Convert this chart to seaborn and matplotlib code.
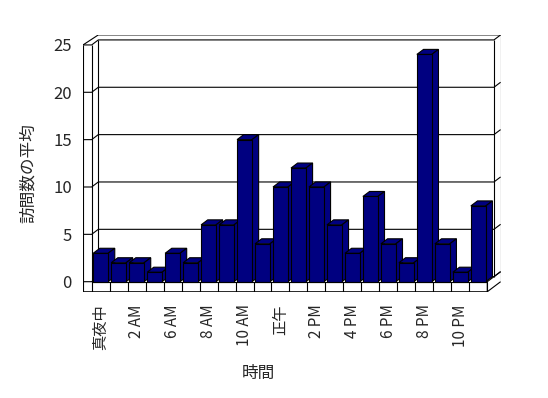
import pandas as pd
import seaborn as sns
import matplotlib.pyplot as plt
from matplotlib.patches import Polygon

# Average visits per hour (hours 4 AM / 5 AM are absent from the source)
hours = ['真夜中', '1 AM', '2 AM', '3 AM', '6 AM', '7 AM', '8 AM', '9 AM',
         '10 AM', '11 AM', '正午', '1 PM', '2 PM', '3 PM', '4 PM', '5 PM',
         '6 PM', '7 PM', '8 PM', '9 PM', '10 PM', '11 PM']
visits = [3, 2, 2, 1, 3, 2, 6, 6, 15, 4, 10, 12, 10, 6, 3, 9, 4, 2, 24, 4, 1, 8]
y_ticks = [0, 5, 10, 15, 20, 25]

sns.set_theme(style='white')
plt.rcParams['font.family'] = ['Noto Sans CJK JP', 'DejaVu Sans']

df = pd.DataFrame({'時間': hours, '訪問数の平均': visits})

navy = '#000080'
fig = plt.figure(figsize=(5.48, 3.98), dpi=100)
ax = fig.add_axes([0.1515, 0.267, 0.762, 0.6453])

sns.barplot(data=df, x='時間', y='訪問数の平均', order=hours, color=navy,
            saturation=1, width=0.83, edgecolor='black', linewidth=0.8,
            errorbar=None, ax=ax)

# fake 3D depth (Excel style)
dx, dy = 0.37, 0.53
w, hf = 0.48, 1.06
xl, xr = -0.5, len(hours) - 0.5
top = y_ticks[-1]
lw = 0.8

def seg(xs, ys, z=1):
    ax.plot(xs, ys, color='black', lw=lw, zorder=z, solid_capstyle='butt')

# back wall with gridlines
for k in y_ticks[:-1]:
    seg([xl - w, xl, xl + dx, xr + dx, xr + 2 * dx], [k, k, k + dy, k + dy, k + 2 * dy])
seg([xl - w, xl, xl + dx, xr + dx, xr + 2 * dx], [top, top, top + dy, top + dy, top + 2 * dy])
seg([xl + dx, xl + dx], [dy, top + dy])
seg([xl - w, xl + dx, xr + 2 * dx], [top, top + 2 * dy, top + 2 * dy])
seg([xr + dx, xr + dx], [dy, top + dy])
seg([xr + 2 * dx, xr + 2 * dx], [2 * dy - hf, top + 2 * dy])

# left wall
seg([xl - w, xl - w], [-hf, top])
seg([xl, xl], [-hf, top])

# floor front strip and right side
seg([xl - w, xr, xr, xr + 2 * dx], [-hf, -hf, 0, 2 * dy], z=5)
seg([xl, xr], [0, 0], z=5)
seg([xr, xr + 2 * dx], [-hf, 2 * dy - hf], z=5)
for i in range(len(hours)):
    seg([i + 0.5, i + 0.5], [-hf, 0], z=5)

# bar tops and sides
for i, bar in enumerate(list(ax.patches)):
    x0 = bar.get_x()
    x1 = x0 + bar.get_width()
    h = bar.get_height()
    z = 3 + i * 0.01
    bar.set_zorder(z + 0.005)
    ax.add_patch(Polygon([(x0, h), (x1, h), (x1 + dx, h + dy), (x0 + dx, h + dy)],
                         closed=True, fc=navy, ec='black', lw=lw, zorder=z))
    ax.add_patch(Polygon([(x1, 0), (x1, h), (x1 + dx, h + dy), (x1 + dx, dy)],
                         closed=True, fc=navy, ec='black', lw=lw, zorder=z))

ax.set_xlim(xl - w, xr + 2 * dx)
ax.set_ylim(-hf, top + 2 * dy)
ax.set_yticks(y_ticks)
ax.set_yticklabels([str(v) for v in y_ticks])
ax.set_xticks(range(0, len(hours), 2))
ax.set_xticklabels(hours[::2], rotation=90)
ax.tick_params(axis='y', length=0, pad=8, labelsize=12)
ax.tick_params(axis='x', length=0, pad=9, labelsize=11)
for s in ax.spines.values():
    s.set_visible(False)
ax.set_facecolor('white')

ax.set_ylabel('訪問数の平均', fontsize=12, va='center')
ax.yaxis.set_label_coords(-0.131, 0.462)
ax.set_xlabel('時間', fontsize=12, va='center')
ax.xaxis.set_label_coords(0.419, -0.320)

plt.savefig('out.png', dpi=100)
